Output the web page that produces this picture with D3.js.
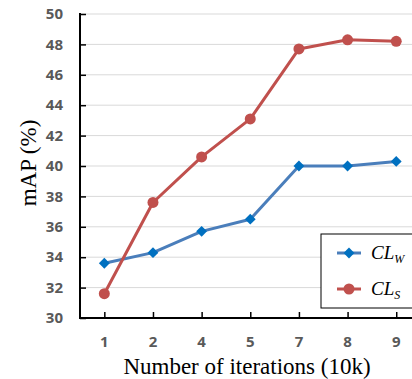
<!DOCTYPE html>
<html>
<head>
<meta charset="utf-8">
<script src="https://cdn.jsdelivr.net/npm/d3@7"></script>
<style>
  body { margin: 0; background: #fff; }
  svg { display: block; }
</style>
</head>
<body>
<div id="chart"></div>
<script>
// data
var iterations = ["1", "2", "4", "5", "7", "8", "9"];
var clW = [33.6, 34.3, 35.7, 36.5, 40.0, 40.0, 40.3];
var clS = [31.6, 37.6, 40.6, 43.1, 47.7, 48.3, 48.2];
var yTicks = [30, 32, 34, 36, 38, 40, 42, 44, 46, 48, 50];

var width = 412, height = 379;
var plotLeft = 80, plotTop = 14, plotBottom = 318;
var step = 48.65;

var svg = d3.select('#chart').append('svg')
  .attr('width', width).attr('height', height);

var x = d3.scalePoint()
  .domain(iterations)
  .range([plotLeft + step / 2, plotLeft + step / 2 + step * (iterations.length - 1)]);

var y = d3.scaleLinear().domain([30, 50]).range([plotBottom, plotTop]);

// gridlines
svg.append('g').selectAll('line')
  .data(yTicks.slice(1))
  .enter().append('line')
  .attr('x1', plotLeft).attr('x2', width)
  .attr('y1', function(d){ return y(d); })
  .attr('y2', function(d){ return y(d); })
  .attr('stroke', '#d9d9d9').attr('stroke-width', 1);

// y axis
var yAxis = svg.append('g')
  .attr('transform', 'translate(' + plotLeft + ',0)')
  .call(d3.axisRight(y).tickValues(yTicks).tickSize(6).tickFormat(''));
yAxis.select('.domain').remove();
yAxis.selectAll('.tick line').attr('stroke', '#000').attr('stroke-width', 1.5);
svg.append('line')
  .attr('x1', plotLeft).attr('x2', plotLeft)
  .attr('y1', plotTop - 1).attr('y2', plotBottom)
  .attr('stroke', '#000').attr('stroke-width', 2);

svg.append('g').selectAll('text')
  .data(yTicks)
  .enter().append('text')
  .attr('x', 63)
  .attr('y', function(d){ return y(d); })
  .attr('dy', '0.35em')
  .attr('text-anchor', 'end')
  .attr('font-family', 'Open Sans, sans-serif')
  .attr('font-weight', 'bold')
  .attr('font-size', 15)
  .attr('fill', '#595959')
  .text(function(d){ return d; });

// x axis
var xAxis = svg.append('g')
  .attr('transform', 'translate(0,' + plotBottom + ')')
  .call(d3.axisTop(x).tickSize(6).tickFormat(''));
xAxis.select('.domain').remove();
xAxis.selectAll('.tick line').attr('stroke', '#000').attr('stroke-width', 1.5);
svg.append('line')
  .attr('x1', plotLeft - 1).attr('x2', width)
  .attr('y1', plotBottom).attr('y2', plotBottom)
  .attr('stroke', '#000').attr('stroke-width', 2);

svg.append('g').selectAll('text')
  .data(iterations)
  .enter().append('text')
  .attr('x', function(d){ return x(d); })
  .attr('y', 342)
  .attr('dy', '0.35em')
  .attr('text-anchor', 'middle')
  .attr('font-family', 'Open Sans, sans-serif')
  .attr('font-weight', 'bold')
  .attr('font-size', 15)
  .attr('fill', '#595959')
  .text(function(d){ return d; });

// axis titles
svg.append('text')
  .attr('transform', 'translate(36,163) rotate(-90)')
  .attr('text-anchor', 'middle')
  .attr('font-family', 'Liberation Serif, serif')
  .attr('font-size', 23)
  .attr('fill', '#000')
  .text('mAP (%)');

svg.append('text')
  .attr('x', 247).attr('y', 374)
  .attr('text-anchor', 'middle')
  .attr('font-family', 'Liberation Serif, serif')
  .attr('font-size', 23)
  .attr('fill', '#000')
  .text('Number of iterations (10k)');

// series
var line = d3.line()
  .x(function(d, i){ return x(iterations[i]); })
  .y(function(d){ return y(d); });

var diamond = d3.symbol().type(d3.symbolDiamond2).size(75);

function drawSeries(values, lineColor, markColor, shape) {
  svg.append('path')
    .datum(values)
    .attr('d', line)
    .attr('fill', 'none')
    .attr('stroke', lineColor)
    .attr('stroke-width', 3)
    .attr('stroke-linejoin', 'round');
  var g = svg.append('g');
  if (shape === 'diamond') {
    g.selectAll('path').data(values).enter().append('path')
      .attr('d', diamond)
      .attr('transform', function(d, i){
        return 'translate(' + x(iterations[i]) + ',' + y(d) + ')';
      })
      .attr('fill', markColor);
  } else {
    g.selectAll('circle').data(values).enter().append('circle')
      .attr('cx', function(d, i){ return x(iterations[i]); })
      .attr('cy', function(d){ return y(d); })
      .attr('r', 5.5)
      .attr('fill', markColor);
  }
}

drawSeries(clW, '#4a7ebb', '#0070c0', 'diamond');
drawSeries(clS, '#c0504d', '#c0504d', 'circle');

// legend
var lg = svg.append('g');
lg.append('rect')
  .attr('x', 321).attr('y', 234)
  .attr('width', 100).attr('height', 74)
  .attr('fill', '#fff').attr('stroke', '#000').attr('stroke-width', 1);

var legendItems = [
  { sub: 'W', ly: 253, lineColor: '#4a7ebb', markColor: '#0070c0', shape: 'diamond' },
  { sub: 'S', ly: 289, lineColor: '#c0504d', markColor: '#c0504d', shape: 'circle' }
];

legendItems.forEach(function(it){
  lg.append('line')
    .attr('x1', 337).attr('x2', 361)
    .attr('y1', it.ly).attr('y2', it.ly)
    .attr('stroke', it.lineColor).attr('stroke-width', 3);
  if (it.shape === 'diamond') {
    lg.append('path').attr('d', diamond)
      .attr('transform', 'translate(349,' + it.ly + ')')
      .attr('fill', it.markColor);
  } else {
    lg.append('circle').attr('cx', 349).attr('cy', it.ly).attr('r', 5.5)
      .attr('fill', it.markColor);
  }
  var t = lg.append('text')
    .attr('x', 371).attr('y', it.ly + 6)
    .attr('font-family', 'Liberation Serif, serif')
    .attr('font-style', 'italic')
    .attr('font-size', 19)
    .attr('fill', '#000');
  t.append('tspan').text('CL');
  t.append('tspan').attr('font-size', 12).attr('dy', 4).text(it.sub);
});
</script>
</body>
</html>
